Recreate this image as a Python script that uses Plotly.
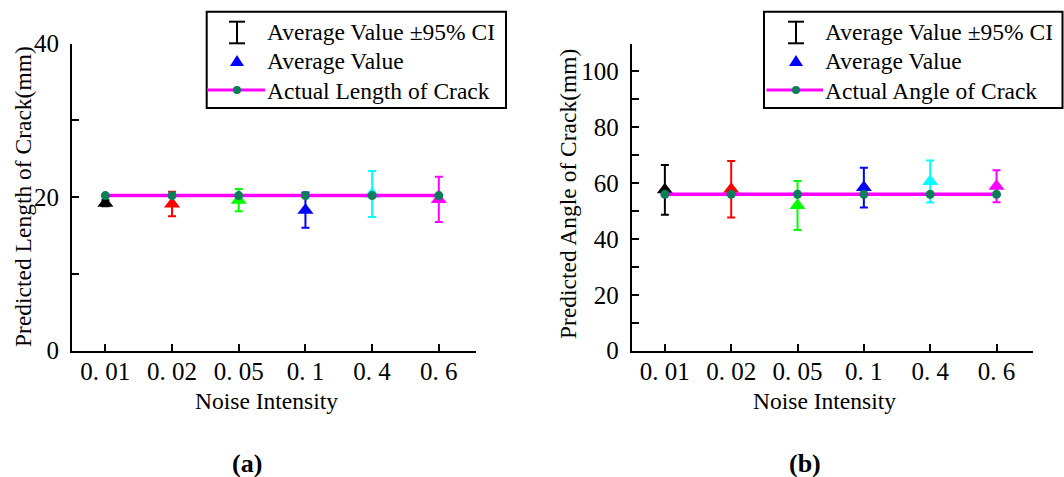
import plotly.graph_objects as go

# Noise intensity levels (category labels)
noise_levels = ["0. 01", "0. 02", "0. 05", "0. 1", "0. 4", "0. 6"]
point_colors = ["#000000", "#ff0000", "#00ff00", "#0000ff", "#00ffff", "#ff00ff"]

# (a) crack length, mm
length_mean = [19.2, 19.1, 19.6, 18.3, 20.4, 19.7]
length_ci = [0.4, 1.6, 1.45, 2.3, 3.0, 2.95]
length_actual = [20.2, 20.2, 20.2, 20.2, 20.2, 20.2]

# (b) crack angle
angle_mean = [57.6, 57.8, 52.0, 58.4, 60.6, 58.9]
angle_ci = [8.9, 10.1, 8.8, 7.1, 7.55, 5.75]
angle_actual = [56.0, 56.0, 56.0, 56.0, 56.0, 56.0]

W, H = 1064, 477
SERIF = "Liberation Serif"
DOT = "#0b7d58"
MAG = "#ff00ff"


def px(x):
    return x / W


def py(y):
    return 1 - y / H


fig = go.Figure()


def add_panel(means, cis, actual, xa, ya, actual_name):
    for i, cat in enumerate(noise_levels):
        fig.add_trace(go.Scatter(
            x=[cat], y=[means[i]], mode="markers", xaxis=xa, yaxis=ya,
            marker=dict(symbol="triangle-up", size=14, color=point_colors[i]),
            error_y=dict(type="data", array=[cis[i]], color=point_colors[i],
                         thickness=2, width=4),
            showlegend=False, name="Average Value",
        ))
    fig.add_trace(go.Scatter(
        x=noise_levels, y=actual, mode="lines+markers", xaxis=xa, yaxis=ya,
        line=dict(color=MAG, width=3.5),
        marker=dict(color=DOT, size=9),
        showlegend=False, name=actual_name,
    ))


add_panel(length_mean, length_ci, length_actual, "x", "y", "Actual Length of Crack")
add_panel(angle_mean, angle_ci, angle_actual, "x2", "y2", "Actual Angle of Crack")

tickfont = dict(family=SERIF, size=25, color="black")
common_x = dict(
    type="category", categoryorder="array", categoryarray=noise_levels,
    range=[-0.5, 5.55], showgrid=False, zeroline=False, automargin=False,
    showline=True, linecolor="black", linewidth=2,
    ticks="inside", ticklen=7, tickwidth=1.5, tickcolor="black",
    tickfont=tickfont, ticklabelstandoff=-3,
)
common_y = dict(
    showgrid=False, zeroline=False, showline=True, linecolor="black",
    linewidth=2, ticks="inside", ticklen=7, tickwidth=1.5, tickcolor="black",
    tickfont=tickfont, ticklabelstandoff=6, automargin=False,
)

ydom = [py(350.7), py(43.5)]
fig.update_layout(
    width=W, height=H,
    margin=dict(l=0, r=0, t=0, b=0, pad=0, autoexpand=False),
    paper_bgcolor="white", plot_bgcolor="white",
    xaxis=dict(domain=[px(72), px(475.5)], anchor="y", **common_x),
    yaxis=dict(domain=ydom, anchor="x", range=[0, 40], dtick=20,
               minor=dict(dtick=10, ticks="inside", ticklen=7, tickwidth=1.5,
                          tickcolor="black", showgrid=False),
               **common_y),
    xaxis2=dict(domain=[px(631.7), px(1033)], anchor="y2", **common_x),
    yaxis2=dict(domain=ydom, anchor="x2", range=[0, 110], dtick=20,
                minor=dict(dtick=10, ticks="inside", ticklen=7, tickwidth=1.5,
                           tickcolor="black", showgrid=False),
                **common_y),
    showlegend=False,
)

shapes = []
annotations = []


def text(x, y, s, size=23.5, angle=0, xanchor="center", bold=False):
    annotations.append(dict(
        x=px(x), y=py(y), xref="paper", yref="paper", text=f"<b>{s}</b>" if bold else s,
        showarrow=False, xanchor=xanchor, yanchor="middle", textangle=angle,
        font=dict(family=SERIF, size=size, color="black"),
    ))


def legend_box(x0, x1, sym_x, text_x, line_x0, actual_label):
    y0, y1 = 11.7, 108
    shapes.append(dict(type="rect", xref="paper", yref="paper",
                       x0=px(x0), x1=px(x1), y0=py(y0), y1=py(y1),
                       line=dict(color="black", width=2), fillcolor="white"))
    # error bar glyph
    for seg in [(sym_x, 21.7, sym_x, 43.3), (sym_x - 8, 21.7, sym_x + 8, 21.7),
                (sym_x - 8, 43.3, sym_x + 8, 43.3)]:
        shapes.append(dict(type="line", xref="paper", yref="paper",
                           x0=px(seg[0]), y0=py(seg[1]), x1=px(seg[2]), y1=py(seg[3]),
                           line=dict(color="black", width=2)))
    # triangle glyph
    ty = 61
    path = (f"M {px(sym_x - 7)} {py(ty + 5)} L {px(sym_x + 7)} {py(ty + 5)} "
            f"L {px(sym_x)} {py(ty - 6)} Z")
    shapes.append(dict(type="path", xref="paper", yref="paper", path=path,
                       fillcolor="#0000ff", line=dict(width=0)))
    # line + dot glyph
    ly = 90
    shapes.append(dict(type="line", xref="paper", yref="paper",
                       x0=px(line_x0), x1=px(text_x), y0=py(ly), y1=py(ly),
                       line=dict(color=MAG, width=3)))
    shapes.append(dict(type="circle", xref="paper", yref="paper",
                       x0=px(sym_x - 4), x1=px(sym_x + 4), y0=py(ly + 4), y1=py(ly - 4),
                       fillcolor=DOT, line=dict(width=0)))
    text(text_x, 31.7, "Average Value ±95% CI", xanchor="left")
    text(text_x, 61.5, "Average Value", xanchor="left")
    text(text_x, 90.5, actual_label, xanchor="left")


legend_box(206.7, 506, 237, 265, 207, "Actual Length of Crack")
legend_box(764, 1062.5, 796, 823, 766.5, "Actual Angle of Crack")

# axis titles and panel labels
text(23, 197, "Predicted Length of Crack(mm)", angle=-90)
text(568, 194, "Predicted Angle of Crack(mm)", angle=-90)
text(266, 401, "Noise Intensity")
text(824, 401, "Noise Intensity")
text(247, 463, "(a)", size=26, bold=True)
text(805, 463, "(b)", size=26, bold=True)

fig.update_layout(shapes=shapes, annotations=annotations)
fig.write_html("out.html")
